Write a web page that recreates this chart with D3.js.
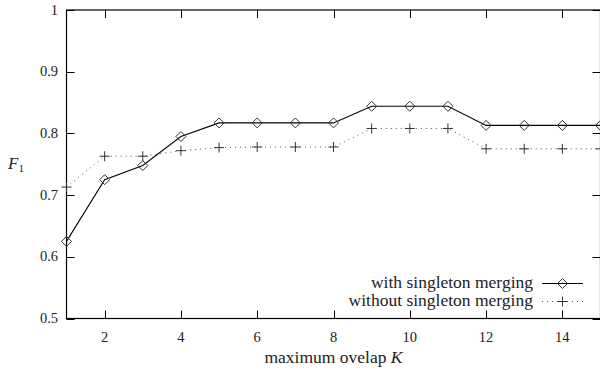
<!DOCTYPE html>
<html>
<head>
<meta charset="utf-8">
<script src="https://cdn.jsdelivr.net/npm/d3@7"></script>
</head>
<body style="margin:0;background:#fff">
<div id="chart"></div>
<script>
// values
var kValues = [1, 2, 3, 4, 5, 6, 7, 8, 9, 10, 11, 12, 13, 14, 15];
var withMerging = [0.625, 0.725, 0.748, 0.795, 0.817, 0.817, 0.817, 0.817, 0.844, 0.844, 0.844, 0.813, 0.813, 0.813, 0.813];
var withoutMerging = [0.713, 0.763, 0.763, 0.772, 0.777, 0.778, 0.778, 0.778, 0.808, 0.808, 0.808, 0.775, 0.775, 0.775, 0.775];
var xTicks = [2, 4, 6, 8, 10, 12, 14];
var yTicks = [0.5, 0.6, 0.7, 0.8, 0.9, 1];
var seriesNames = ["with singleton merging", "without singleton merging"];

var W = 600, H = 373,
    pLeft = 66.5, pRight = 600.5, pTop = 10, pBottom = 318.5;
var FONT = 'Liberation Serif';

var x = d3.scaleLinear().domain([1, 15]).range([pLeft, pRight]),
    y = d3.scaleLinear().domain([0.5, 1]).range([pBottom, pTop]);

var svg = d3.select('#chart').append('svg').attr('width', W).attr('height', H).style('display', 'block');

function label(g, px, py, size, anchor) {
  return g.append('text').attr('x', px).attr('y', py).attr('font-family', FONT).attr('font-size', size)
    .attr('text-anchor', anchor).attr('fill', '#222');
}

// frame
svg.append('rect').attr('x', pLeft).attr('y', pTop).attr('width', pRight - pLeft).attr('height', pBottom - pTop)
  .attr('fill', 'none').attr('stroke', '#000').attr('stroke-width', 1.2);

// ticks (mirrored on all four sides, gnuplot style)
var tl = 8;
var ax = svg.append('g').attr('stroke', '#000').attr('stroke-width', 1);
xTicks.forEach(function(t) {
  var px = Math.round(x(t)) + 0.5;
  ax.append('line').attr('x1', px).attr('x2', px).attr('y1', pBottom).attr('y2', pBottom - tl);
  ax.append('line').attr('x1', px).attr('x2', px).attr('y1', pTop).attr('y2', pTop + tl);
  label(svg, x(t), 342, 14.5, 'middle').text(t);
});
yTicks.forEach(function(t) {
  var py = Math.round(y(t)) + 0.5;
  ax.append('line').attr('x1', pLeft).attr('x2', pLeft + tl).attr('y1', py).attr('y2', py);
  ax.append('line').attr('x1', pRight).attr('x2', pRight - tl).attr('y1', py).attr('y2', py);
  label(svg, 58, y(t) + 4.5, 14.5, 'end').text(t);
});

// axis titles
var xt = label(svg, (pLeft + pRight) / 2, 363, 17.5, 'middle');
xt.append('tspan').text('maximum ovelap ');
xt.append('tspan').attr('font-style', 'italic').text('K');

var yt = label(svg, 8, 169, 17, 'start');
yt.append('tspan').attr('font-style', 'italic').text('F');
yt.append('tspan').attr('dy', 3).attr('font-size', 11).text('1');

// lines
var line = d3.line().x(function(d) { return x(d[0]); }).y(function(d) { return y(d[1]); });
var d1 = kValues.map(function(k, i) { return [k, withMerging[i]]; }),
    d2 = kValues.map(function(k, i) { return [k, withoutMerging[i]]; });

svg.append('path').datum(d2).attr('d', line).attr('fill', 'none')
  .attr('stroke', '#555').attr('stroke-width', 1).attr('stroke-dasharray', '1,4');
svg.append('path').datum(d1).attr('d', line).attr('fill', 'none')
  .attr('stroke', '#000').attr('stroke-width', 1.1);

// markers
function diamond(g, cx, cy) {
  g.append('path').attr('d', 'M' + cx + ',' + (cy - 5) + 'L' + (cx + 5) + ',' + cy + 'L' + cx + ',' + (cy + 5) + 'L' + (cx - 5) + ',' + cy + 'Z')
    .attr('fill', 'none').attr('stroke', '#333').attr('stroke-width', 1);
}
function plus(g, cx, cy) {
  g.append('path').attr('d', 'M' + (cx - 5) + ',' + cy + 'H' + (cx + 5) + 'M' + cx + ',' + (cy - 5) + 'V' + (cy + 5))
    .attr('fill', 'none').attr('stroke', '#333').attr('stroke-width', 1);
}
var mk = svg.append('g');
d1.forEach(function(d) { diamond(mk, x(d[0]), y(d[1])); });
d2.forEach(function(d) { plus(mk, x(d[0]), y(d[1])); });

// legend
var legY = [283, 301];
seriesNames.forEach(function(n, i) {
  label(svg, 533, legY[i] + 4.5, 17.5, 'end').text(n);
  var ln = svg.append('line').attr('x1', 542).attr('x2', 583).attr('y1', legY[i] + 0.5).attr('y2', legY[i] + 0.5);
  if (i === 0) {
    ln.attr('stroke', '#000').attr('stroke-width', 1.1);
    diamond(svg, 562.5, legY[i] + 0.5);
  } else {
    ln.attr('stroke', '#555').attr('stroke-width', 1).attr('stroke-dasharray', '1,4');
    plus(svg, 562.5, legY[i] + 0.5);
  }
});
</script>
</body>
</html>
